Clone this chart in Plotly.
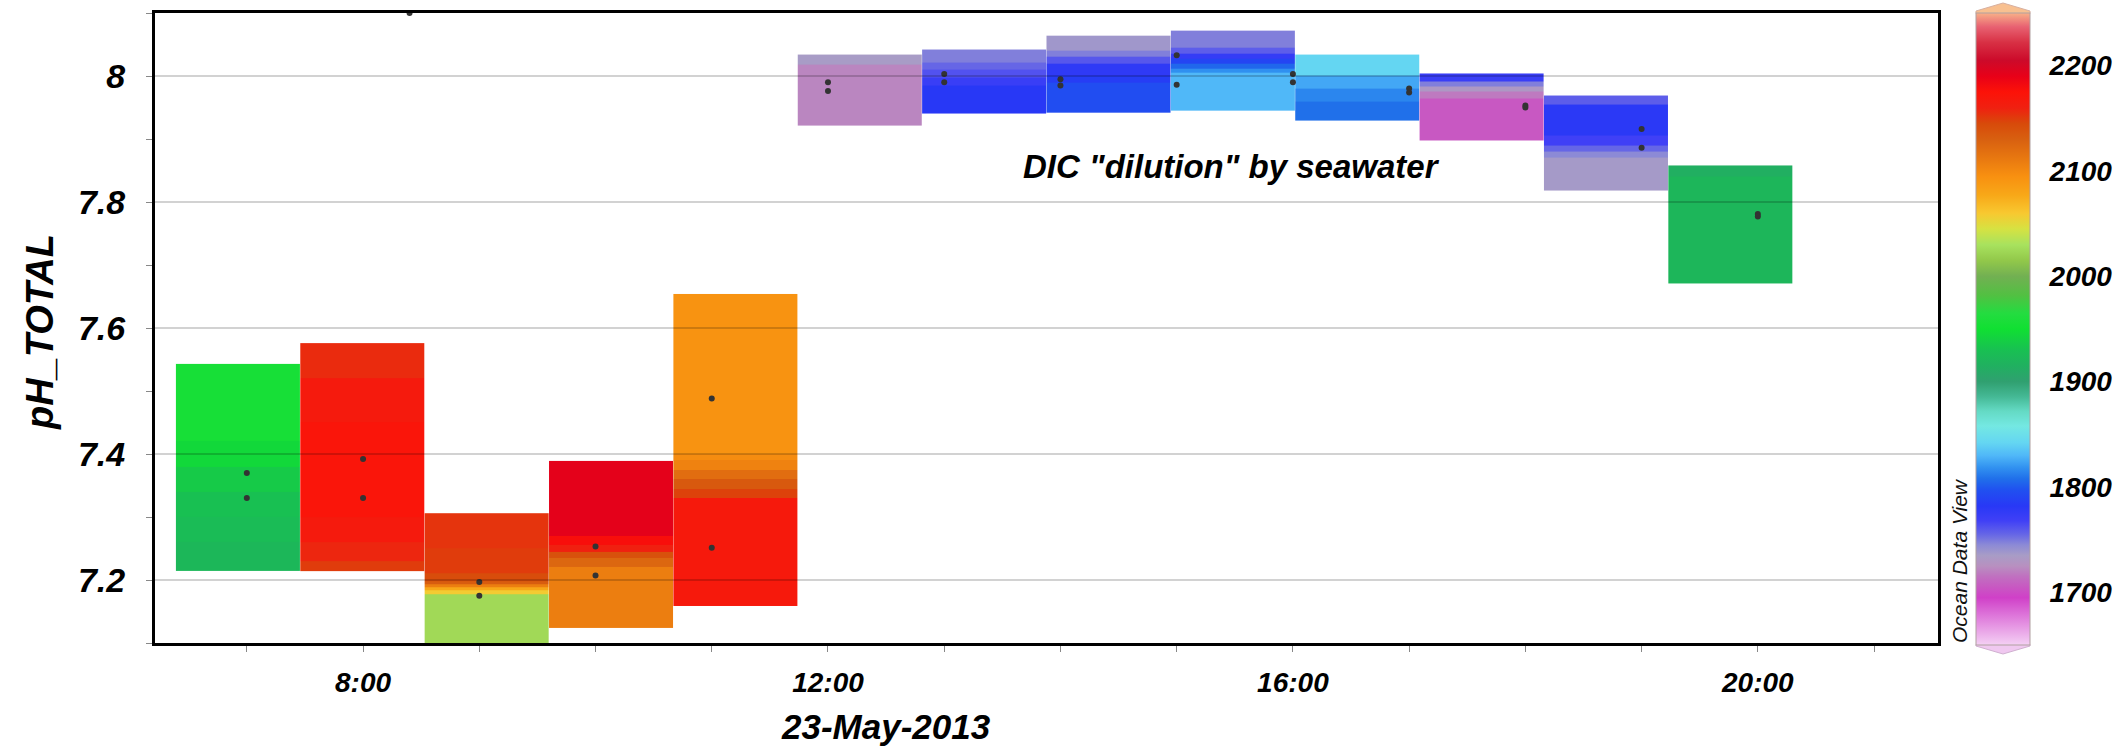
import plotly.graph_objects as go

# ---------------- data ----------------
# grid-cell edges along time (hours of 23-May-2013)
cell_edges = [6.39, 7.46, 8.53, 9.60, 10.67, 11.74, 12.81, 13.88, 14.95, 16.02, 17.09, 18.16, 19.23, 20.30]

# per cell: vertical band edges (pH_TOTAL) and DIC value of each band
b1_y = [7.214, 7.26, 7.30, 7.34, 7.38, 7.42, 7.543]
b1_v = [1922, 1926, 1930, 1936, 1945, 1955]
b2_y = [7.214, 7.23, 7.26, 7.30, 7.45, 7.52, 7.576]
b2_v = [2150, 2158, 2166, 2172, 2166, 2156]
b3_y = [7.10, 7.178, 7.183, 7.188, 7.193, 7.198, 7.21, 7.25, 7.306]
b3_v = [2025, 2058, 2078, 2108, 2133, 2143, 2150, 2153]
b4_y = [7.124, 7.22, 7.235, 7.245, 7.255, 7.27, 7.389]
b4_v = [2108, 2125, 2140, 2160, 2178, 2192]
b5_y = [7.159, 7.33, 7.345, 7.36, 7.375, 7.39, 7.40, 7.654]
b5_v = [2168, 2148, 2135, 2120, 2105, 2098, 2093]
b6_y = [7.921, 8.018, 8.034]
b6_v = [1722, 1735]
b7_y = [7.941, 7.985, 7.997, 8.010, 8.022, 8.042]
b7_v = [1782, 1772, 1762, 1755, 1748]
b8_y = [7.941, 7.99, 8.0, 8.02, 8.03, 8.04, 8.064]
b8_v = [1795, 1785, 1778, 1760, 1748, 1738]
b9_y = [7.945, 8.005, 8.012, 8.02, 8.028, 8.036, 8.045, 8.072]
b9_v = [1830, 1818, 1805, 1790, 1775, 1758, 1748]
b10_y = [7.930, 7.96, 7.98, 8.0, 8.034]
b10_v = [1808, 1815, 1825, 1842]
b11_y = [7.898, 7.965, 7.975, 7.983, 7.992, 8.004]
b11_v = [1705, 1718, 1732, 1748, 1772]
b12_y = [7.818, 7.87, 7.88, 7.89, 7.905, 7.955, 7.969]
b12_v = [1736, 1745, 1755, 1768, 1780, 1758]
b13_y = [7.671, 7.84, 7.858]
b13_v = [1921, 1914]

band_edges = [b1_y, b2_y, b3_y, b4_y, b5_y, b6_y, b7_y, b8_y, b9_y, b10_y, b11_y, b12_y, b13_y]
band_values = [b1_v, b2_v, b3_v, b4_v, b5_v, b6_v, b7_v, b8_v, b9_v, b10_v, b11_v, b12_v, b13_v]

# sample points
sample_time = [7, 7, 8, 8, 9, 9, 10, 10, 11, 11, 12, 12, 13, 13, 14, 14, 15, 15,
               16, 16, 17, 17, 18, 18, 19, 19, 20, 20, 8.40]
sample_ph = [7.370, 7.330, 7.392, 7.330, 7.197, 7.175, 7.253, 7.207, 7.488, 7.251,
             7.990, 7.976, 8.003, 7.990, 7.995, 7.985, 8.033, 7.986, 8.003, 7.990,
             7.980, 7.974, 7.953, 7.950, 7.916, 7.886, 7.781, 7.777, 8.10]

x_tickvals = list(range(7, 22))
x_ticktext = ["", "8:00", "", "", "", "12:00", "", "", "", "16:00", "", "", "", "20:00", ""]
y_tickvals = [7.2, 7.4, 7.6, 7.8, 8.0]
cbar_ticks = [1700, 1800, 1900, 2000, 2100, 2200]

# ODV-like colour map (DIC value, colour)
cmap_vals = [1650, 1665, 1680, 1695, 1705, 1715, 1725, 1735, 1745, 1755, 1768, 1782, 1797,
             1808, 1818, 1830, 1842, 1858, 1872, 1886, 1900, 1915, 1930, 1950, 1965, 1982,
             2000, 2015, 2030, 2045, 2060, 2077, 2095, 2112, 2130, 2145, 2160, 2175, 2190,
             2205, 2222, 2237, 2250]
cmap_cols = ["#f4d0f4", "#e8a0e6", "#dc70d8", "#d040c8", "#c858c2", "#c070c0", "#b890c0",
             "#a89cc6", "#8c8ad6", "#6666e6", "#4040f6", "#2838f6", "#2050f0",
             "#2070ea", "#3090f0", "#50b8f8", "#64d6f2", "#74e8e2", "#64dac4", "#44b894",
             "#30a070", "#20b060", "#18c052", "#10e032", "#24dc40", "#52c042",
             "#72b052", "#92c84a", "#a8e25e", "#d6e242", "#f8c830", "#f8a818", "#f89010",
             "#e87810", "#d86010", "#d84a0a", "#f02010", "#fc1208", "#e80018",
             "#cc0a2a", "#d83044", "#e86272", "#f8b088"]

lo, hi = 1650, 2250
colorscale = [[(v - lo) / (hi - lo), c] for v, c in zip(cmap_vals, cmap_cols)]

FONT = "Liberation Sans, Arial, sans-serif"

fig = go.Figure()

for k in range(len(band_values)):
    fig.add_trace(go.Heatmap(
        x=[cell_edges[k], cell_edges[k + 1]],
        y=band_edges[k],
        z=[[v] for v in band_values[k]],
        coloraxis="coloraxis",
        zsmooth=False,
        hoverinfo="skip",
    ))

fig.add_trace(go.Scatter(
    x=sample_time, y=sample_ph, mode="markers",
    marker=dict(color="#333333", size=6),
    hoverinfo="skip", showlegend=False,
))

# plot area in pixels
W, H = 2114, 747
L, R, T, B = 155, 176, 13, 104
pw = W - L - R
ph = H - T - B

def px_x(p):
    return (p - L) / pw

def px_y(p):
    return (H - B - p) / ph

fig.update_layout(
    width=W, height=H,
    margin=dict(l=L, r=R, t=T, b=B, autoexpand=False),
    paper_bgcolor="white", plot_bgcolor="white",
    showlegend=False,
    coloraxis=dict(
        colorscale=colorscale, cmin=lo, cmax=hi,
        colorbar=dict(
            x=px_x(1976), xanchor="left", xref="paper",
            y=px_y(329), yanchor="middle",
            lenmode="pixels", len=632,
            thicknessmode="pixels", thickness=54,
            outlinewidth=1, outlinecolor="#b0a0a0",
            tickvals=cbar_ticks,
            ticks="outside", ticklen=14, tickcolor="rgba(0,0,0,0)",
            tickfont=dict(family=FONT, size=28, color="black", weight="bold", style="italic"),
            xpad=0, ypad=0,
        ),
    ),
    xaxis=dict(
        range=[6.21, 21.55],
        tickvals=x_tickvals, ticktext=x_ticktext,
        ticks="outside", ticklen=6, tickwidth=1, tickcolor="#888888",
        tickfont=dict(family=FONT, size=28, color="black", weight="bold", style="italic"),
        ticklabelstandoff=6,
        showgrid=False, zeroline=False,
        showline=True, linecolor="black", linewidth=3, mirror=True,
    ),
    yaxis=dict(
        range=[7.1, 8.1],
        tickvals=y_tickvals,
        ticks="outside", ticklen=6, tickwidth=1, tickcolor="#888888",
        minor=dict(dtick=0.1, tick0=7.1, ticks="outside", ticklen=6, tickcolor="#888888", showgrid=False),
        tickfont=dict(family=FONT, size=34, color="black", weight="bold", style="italic"),
        ticklabelstandoff=14,
        showgrid=False, zeroline=False,
        showline=True, linecolor="black", linewidth=3, mirror=True,
    ),
)

# gridlines drawn above the cells (as in the ODV original)
for v in y_tickvals:
    fig.add_shape(type="line", xref="paper", x0=0, x1=1, yref="y", y0=v, y1=v,
                  line=dict(color="rgba(0,0,0,0.24)", width=1.5), layer="above")

# colour-bar inner tick marks and end arrows
xl, xr, xm = px_x(1976), px_x(2030), px_x(2003)
cb_top, cb_bot = 13, 645
for t in cbar_ticks:
    yp = px_y(cb_top + (hi - t) / (hi - lo) * (cb_bot - cb_top))
    for a, b in ((xl, px_x(1986)), (px_x(2020), xr)):
        fig.add_shape(type="line", xref="paper", yref="paper", x0=a, x1=b, y0=yp, y1=yp,
                      line=dict(color="rgba(0,0,0,0.35)", width=1.5), layer="above")
fig.add_shape(type="path", xref="paper", yref="paper",
              path=f"M {xl} {px_y(13.5)} L {xl} {px_y(11)} L {xm} {px_y(3)} L {xr} {px_y(11)} L {xr} {px_y(13.5)} Z",
              fillcolor="#f8c090", line=dict(color="#d8b0a0", width=1), layer="above")
fig.add_shape(type="path", xref="paper", yref="paper",
              path=f"M {xl} {px_y(644.5)} L {xl} {px_y(646)} L {xm} {px_y(654)} L {xr} {px_y(646)} L {xr} {px_y(644.5)} Z",
              fillcolor="#f0c8f0", line=dict(color="#d0b0d0", width=1), layer="above")

bi = dict(family=FONT, color="black", weight="bold", style="italic")
fig.add_annotation(text='DIC "dilution" by seawater', x=15.47, y=7.856, xref="x", yref="y",
                   showarrow=False, font=dict(size=33, **bi))
fig.add_annotation(text="23-May-2013", x=px_x(886), y=px_y(726), xref="paper", yref="paper",
                   showarrow=False, font=dict(size=35, **bi), yanchor="middle")
fig.add_annotation(text="pH_TOTAL", x=px_x(40), y=px_y(332), xref="paper", yref="paper",
                   showarrow=False, textangle=-90, font=dict(size=38, **bi),
                   xanchor="center", yanchor="middle")
fig.add_annotation(text="Ocean Data View", x=px_x(1959), y=px_y(561), xref="paper", yref="paper",
                   showarrow=False, textangle=-90, xanchor="center", yanchor="middle",
                   font=dict(family=FONT, size=21, color="#111111", style="italic"))

fig.write_html("out.html")
